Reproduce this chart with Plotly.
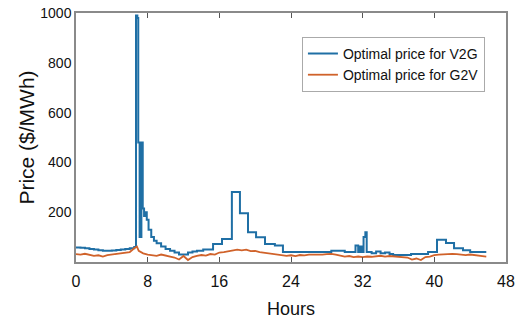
import plotly.graph_objects as go

# Optimal price for V2G (step series)
v2g_hours = [0, 0.5, 1, 1.5, 2, 2.5, 3, 3.5, 4, 4.5, 5, 5.5, 6, 6.5,
             6.7, 6.85, 6.95, 7.1, 7.3, 7.45, 7.6, 7.75, 7.9, 8.1, 8.4, 8.7, 9.0,
             9.5, 10, 10.5, 11, 11.5, 12, 12.5, 13, 13.5, 14.2, 15.3, 16.3, 17.4,
             18.3, 19.2, 20.1, 21.1, 22.2, 23.1, 28.5, 30, 31.2, 31.5, 31.7, 31.9,
             32.1, 32.3, 32.45, 33, 33.5, 34, 34.5, 35, 35.4, 37.4, 39.3, 40.3,
             41.3, 42.2, 43.2, 44, 45.8]
v2g_price = [58, 57, 55, 52, 50, 47, 45, 45, 46, 48, 50, 52, 55, 60,
             990, 980, 480, 100, 480, 215, 185, 200, 170, 130, 100, 85, 75,
             62, 52, 45, 38, 30, 30, 38, 42, 45, 50, 72, 92, 281,
             196, 119, 99, 72, 66, 40, 45, 40, 66, 40, 62, 40,
             100, 119, 40, 35, 42, 35, 38, 32, 28, 32, 40, 89,
             76, 55, 47, 40, 40]

# Optimal price for G2V
g2v_hours = [0, 0.5, 1, 1.5, 2, 2.5, 3, 3.5, 4, 4.5, 5, 5.5, 6, 6.5, 6.8, 7,
             7.5, 8, 8.5, 9, 9.5, 10, 10.5, 11, 11.5, 12, 12.5, 13, 13.5, 14,
             14.5, 15, 15.5, 16, 16.5, 17, 17.5, 18, 18.5, 19, 19.5, 20, 20.5,
             21, 21.5, 22, 22.5, 23, 23.5, 24, 24.5, 25, 25.5, 26, 26.5, 27,
             27.5, 28, 28.5, 29, 29.5, 30, 30.5, 31, 31.5, 32, 32.5, 33, 34,
             34.5, 35, 35.5, 36, 36.5, 37, 37.5, 38, 38.5, 39, 39.5, 40, 40.5,
             41, 41.5, 42, 42.5, 43, 43.5, 44, 44.5, 45, 45.8]
g2v_price = [32, 30, 33, 28, 25, 27, 22, 28, 30, 32, 35, 38, 40, 55, 62, 45,
             35, 30, 28, 25, 30, 26, 22, 18, 10, 24, 8, 20, 25, 28,
             26, 32, 30, 38, 40, 44, 48, 50, 47, 50, 44, 45, 40,
             38, 36, 34, 30, 28, 25, 27, 24, 28, 27, 30, 29, 31,
             30, 32, 33, 30, 25, 22, 24, 20, 22, 20, 22, 21, 25,
             22, 24, 22, 20, 21, 18, 10, 14, 8, 20, 22, 28, 30,
             32, 34, 33, 32, 30, 28, 30, 27, 25, 22]

x_ticks = [0, 8, 16, 24, 32, 40, 48]
y_ticks = [200, 400, 600, 800, 1000]

FONT = "Liberation Sans, Arial, sans-serif"

fig = go.Figure()
fig.add_trace(go.Scatter(x=v2g_hours, y=v2g_price, mode="lines",
                         line=dict(color="#1f6fa5", width=2, shape="hv"),
                         name="Optimal price for V2G"))
fig.add_trace(go.Scatter(x=g2v_hours, y=g2v_price, mode="lines",
                         line=dict(color="#d0622a", width=1.8),
                         name="Optimal price for G2V"))

fig.update_layout(
    width=518, height=320,
    margin=dict(l=76, r=12, t=13, b=58),
    paper_bgcolor="white", plot_bgcolor="white",
    showlegend=True,
    legend=dict(x=0.951, y=0.904, xanchor="right", yanchor="top",
                bordercolor="#aaaaaa", borderwidth=1, bgcolor="white",
                font=dict(family=FONT, size=14, color="#111111"),
                itemwidth=30, tracegroupgap=0),
    xaxis=dict(range=[0, 48], tickvals=x_ticks, ticktext=[str(v) for v in x_ticks],
               automargin=False,
               showgrid=False, zeroline=False, showline=True, linecolor="#8a8a8a",
               linewidth=1.5, mirror="ticks", ticks="inside", ticklen=5, tickcolor="#555555",
               ticklabelstandoff=4, ticklabeloverflow="allow",
               tickfont=dict(family=FONT, size=16, color="#111111"),
               title=dict(text="Hours", font=dict(family=FONT, size=18, color="#111111"),
                          standoff=13)),
    yaxis=dict(range=[0, 1000], tickvals=y_ticks, ticktext=[str(v) for v in y_ticks],
               automargin=False,
               showgrid=False, zeroline=False, showline=True, linecolor="#8a8a8a",
               linewidth=1.5, mirror=True, ticks="", ticklabeloverflow="allow",
               tickfont=dict(family=FONT, size=14, color="#111111"),
               title=dict(text="Price ($/MWh)", font=dict(family=FONT, size=21, color="#111111"),
                          standoff=0)),
)

fig.write_html("out.html", config={"displayModeBar": False},
               post_script="document.body.style.margin='0';")
